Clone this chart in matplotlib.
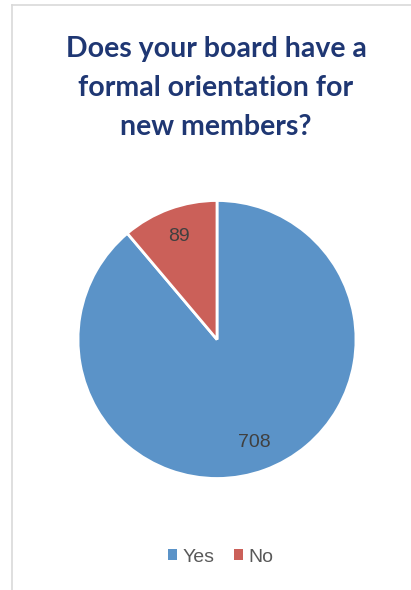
import matplotlib.pyplot as plt
from matplotlib.patches import Rectangle
from matplotlib.lines import Line2D

categories = ["Yes", "No"]
values = [708, 89]
colors = ["#5B93C8", "#CB6059"]
title = "Does your board have a\nformal orientation for\nnew members?"

W, H = 411, 590
fig = plt.figure(figsize=(W / 100, H / 100), dpi=100)
fig.patch.set_facecolor("white")

# border lines (left and top)
fig.add_artist(Line2D([12 / W, 12 / W], [0, 1 - 5 / H], color="#D9D9D9", lw=1.2))
fig.add_artist(Line2D([12 / W, 1], [1 - 5 / H, 1 - 5 / H], color="#D9D9D9", lw=1.2))

cx, cy, r = 217, 339.5, 139
ax = fig.add_axes([(cx - r) / W, 1 - (cy + r) / H, 2 * r / W, 2 * r / H])
wedges, texts = ax.pie(
    values, colors=colors, startangle=90, counterclock=False,
    labels=[str(v) for v in values], labeldistance=0.79,
    wedgeprops=dict(edgecolor="white", linewidth=2),
    textprops=dict(color="#404040", fontsize=14, family="Liberation Sans"),
)
for t in texts:
    t.set_ha("center")
    t.set_va("center")
ax.set_xlim(-1, 1)
ax.set_ylim(-1, 1)
ax.set_aspect("equal")

fig.text(216 / W, 1 - 88 / H, title, ha="center", va="center",
         fontsize=20.5, fontweight="bold", color="#1F3773",
         family="Lato", linespacing=1.6)

handles = [Rectangle((0, 0), 1, 1, facecolor=c, edgecolor="none") for c in colors]
leg = fig.legend(handles, categories, loc="center", bbox_to_anchor=(221 / W, 1 - 557 / H),
                 ncol=2, frameon=False, handlelength=0.45, handleheight=0.45,
                 handletextpad=0.3, columnspacing=1.0,
                 prop=dict(family="Liberation Sans", size=14))
for t in leg.get_texts():
    t.set_color("#595959")

fig.savefig("out.png", dpi=100, facecolor="white")
